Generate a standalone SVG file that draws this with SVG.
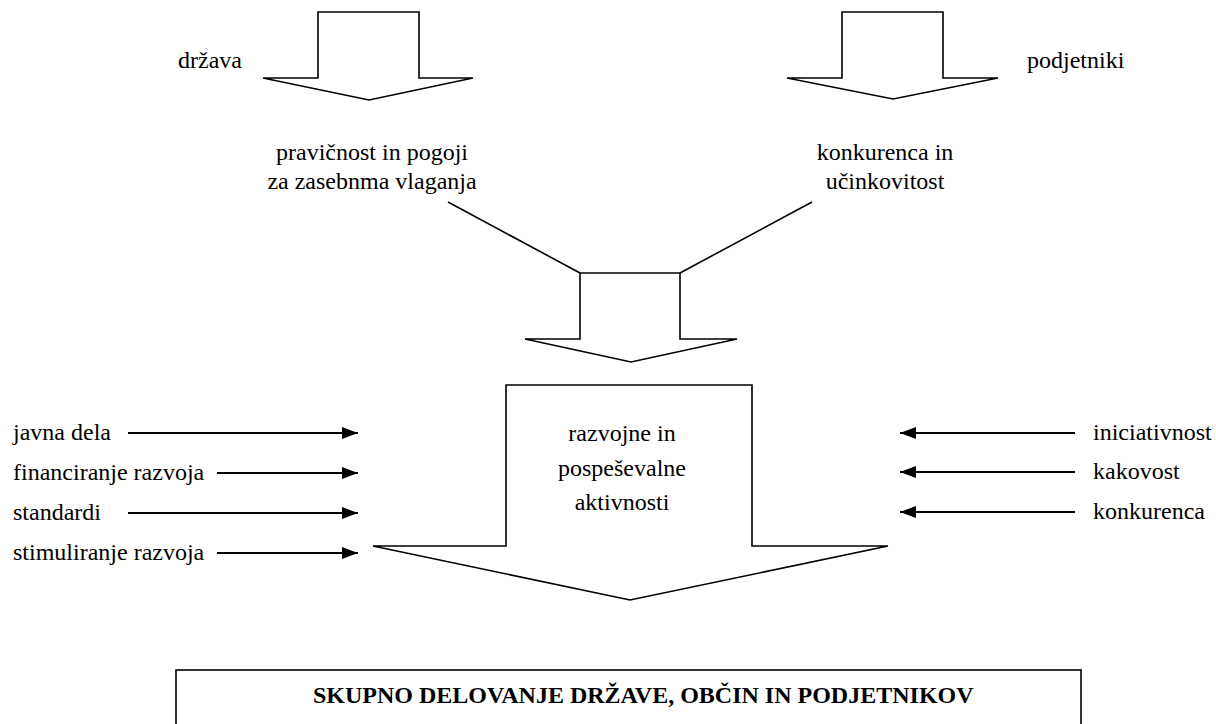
<svg xmlns="http://www.w3.org/2000/svg" width="1216" height="724" viewBox="0 0 1216 724">
<style>
.t{font-family:"Liberation Serif","Times New Roman",serif;font-size:24px;fill:#000}
.c{text-anchor:middle}
.b{font-weight:bold}
.shape{fill:#fff;stroke:#000;stroke-width:1.6;stroke-linejoin:miter}
.ln{fill:none;stroke:#000;stroke-width:1.6}
.ar{fill:none;stroke:#000;stroke-width:2.2}
</style>
<defs>
<marker id="ah" viewBox="0 0 16 12" refX="16" refY="6" markerWidth="16" markerHeight="12" markerUnits="userSpaceOnUse" orient="auto">
<path d="M0,0 L16,6 L0,12 Z" fill="#000"/>
</marker>
</defs>
<rect width="1216" height="724" fill="#fff"/>
<g id="drzava">
<path class="shape" d="M318,12 L419,12 L419,78 L473,78 L369,100 L263,78 L318,78 Z"/>
<text class="t" x="178" y="68">država</text>
</g>
<g id="podjetniki">
<path class="shape" d="M842,12 L943,12 L943,78 L998,78 L893,99 L787,78 L842,78 Z"/>
<text class="t" x="1027" y="68">podjetniki</text>
</g>
<g id="pravicnost">
<text class="t c" x="372" y="160">pravičnost in pogoji</text>
<text class="t c" x="372" y="189">za zasebnma vlaganja</text>
</g>
<g id="konkurenca-ucinkovitost">
<text class="t c" x="885" y="160">konkurenca in</text>
<text class="t c" x="885" y="189">učinkovitost</text>
</g>
<g id="zdruzitev">
<path class="shape" d="M580,273 L680,273 L680,339 L737,339 L631,362 L525,339 L580,339 Z"/>
</g>
<g id="razvojne">
<path class="shape" d="M506,385 L752,385 L752,546 L888,546 L630,600 L373,546 L506,546 Z"/>
<text class="t c" x="622" y="441">razvojne in</text>
<text class="t c" x="622" y="476">pospeševalne</text>
<text class="t c" x="622" y="510">aktivnosti</text>
</g>
<g id="skupno">
<rect class="shape" x="176" y="670" width="905" height="70"/>
<text class="t b" x="313" y="703">SKUPNO DELOVANJE DRŽAVE, OBČIN IN PODJETNIKOV</text>
</g>
<g id="left-labels">
<text class="t" x="13" y="440">javna dela</text>
<text class="t" x="13" y="480">financiranje razvoja</text>
<text class="t" x="13" y="520">standardi</text>
<text class="t" x="13" y="560">stimuliranje razvoja</text>
</g>
<g id="right-labels">
<text class="t" x="1093" y="440">iniciativnost</text>
<text class="t" x="1093" y="479">kakovost</text>
<text class="t" x="1093" y="519">konkurenca</text>
</g>
<g id="connectors">
<line class="ln" x1="448" y1="202" x2="580" y2="273"/>
<line class="ln" x1="812" y1="202" x2="680" y2="273"/>
<line class="ar" x1="128" y1="433" x2="358" y2="433" marker-end="url(#ah)"/>
<line class="ar" x1="217" y1="473" x2="358" y2="473" marker-end="url(#ah)"/>
<line class="ar" x1="128" y1="513" x2="358" y2="513" marker-end="url(#ah)"/>
<line class="ar" x1="217" y1="553" x2="358" y2="553" marker-end="url(#ah)"/>
<line class="ar" x1="1075" y1="433" x2="900" y2="433" marker-end="url(#ah)"/>
<line class="ar" x1="1075" y1="472" x2="900" y2="472" marker-end="url(#ah)"/>
<line class="ar" x1="1075" y1="512" x2="900" y2="512" marker-end="url(#ah)"/>
</g>
</svg>
